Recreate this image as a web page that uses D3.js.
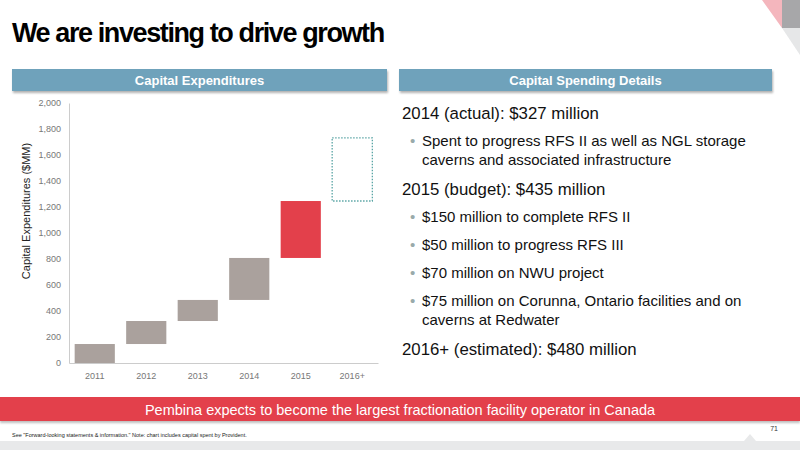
<!DOCTYPE html>
<html><head><meta charset="utf-8">
<script src="https://cdn.jsdelivr.net/npm/d3@7"></script>
<style>body{margin:0;background:#fff;font-family:"Liberation Sans",Arial,sans-serif}</style>
</head><body>
<svg id="s" width="800" height="450"></svg>
<script>
const years = ['2011', '2012', '2013', '2014', '2015', '2016+'];
const spend = [146, 177, 162, 323, 438, 485];
const kinds = ['actual', 'actual', 'actual', 'actual', 'budget', 'estimate'];
const yTicks = [0, 200, 400, 600, 800, 1000, 1200, 1400, 1600, 1800, 2000];

const svg = d3.select('#s');

// corner decoration
svg.append('polygon').attr('points', '762,0 782,0 782,28').attr('fill', '#f4b6bd');
svg.append('polygon').attr('points', '782,0 800,0 800,33 782,28').attr('fill', '#a7a7a9');
svg.append('polygon').attr('points', '782,28 800,28 800,55').attr('fill', '#e6e7e8');

svg.append('text').attr('x', 12).attr('y', 42).attr('font-size', 27).attr('font-weight', 'bold')
    .attr('letter-spacing', -1.4).attr('fill', '#000').text('We are investing to drive growth');

// header bars
[[12, 387, 'Capital Expenditures'], [399, 772, 'Capital Spending Details']].forEach(([x0, x1, t]) => {
    svg.append('rect').attr('x', x0).attr('y', 69).attr('width', x1 - x0).attr('height', 22)
        .attr('fill', '#6fa2bb').style('filter', 'drop-shadow(1px 2px 1px rgba(0,0,0,0.3))');
    svg.append('text').attr('x', (x0 + x1) / 2).attr('y', 85).attr('text-anchor', 'middle')
        .attr('font-size', 13).attr('font-weight', 'bold').attr('fill', '#fff').text(t);
});

// chart
const x = d3.scaleBand().domain(years).range([69, 378]).paddingInner(0.22).paddingOuter(0.11);
const y = d3.scaleLinear().domain([0, 2000]).range([363, 103]);
const g = svg.append('g');
const yAxis = g.append('g').attr('transform', 'translate(69,0)')
    .call(d3.axisLeft(y).tickValues(yTicks).tickFormat(d3.format(',')).tickSize(0).tickPadding(8));
const xAxis = g.append('g').attr('transform', 'translate(0,363)')
    .call(d3.axisBottom(x).tickSize(0).tickPadding(10));
[yAxis, xAxis].forEach(a => {
    a.selectAll('text').attr('font-size', 9).attr('fill', '#777').attr('font-family', 'Liberation Sans, Arial');
    a.select('.domain').attr('stroke', '#ccc');
});
g.append('text').attr('transform', 'translate(30,211) rotate(-90)').attr('text-anchor', 'middle')
    .attr('font-size', 11).attr('fill', '#222').text('Capital Expenditures ($MM)');

let base = 0;
years.forEach((yr, i) => {
    const lo = base, hi = base + spend[i];
    base = hi;
    const r = g.append('rect').attr('x', x(yr)).attr('width', x.bandwidth())
        .attr('y', y(hi)).attr('height', y(lo) - y(hi));
    if (kinds[i] === 'actual') r.attr('fill', '#aaa19d');
    else if (kinds[i] === 'budget') r.attr('fill', '#e3404b');
    else r.attr('fill', 'none').attr('stroke', '#5aa5a5').attr('stroke-width', 1.3).attr('stroke-dasharray', '1.5,1.5');
});

// details text
const lines = [
    ['h', 119, '2014 (actual): $327 million'],
    ['b', 146, 'Spent to progress RFS II as well as NGL storage'],
    ['c', 165, 'caverns and associated infrastructure'],
    ['h', 195, '2015 (budget): $435 million'],
    ['b', 222, '$150 million to complete RFS II'],
    ['b', 250, '$50 million to progress RFS III'],
    ['b', 278, '$70 million on NWU project'],
    ['b', 306, '$75 million on Corunna, Ontario facilities and on'],
    ['c', 325, 'caverns at Redwater'],
    ['h', 355, '2016+ (estimated): $480 million']
];
lines.forEach(([k, yy, t]) => {
    if (k === 'h') svg.append('text').attr('x', 402).attr('y', yy).attr('font-size', 16.8).attr('fill', '#111').text(t);
    else {
        if (k === 'b') svg.append('text').attr('x', 410).attr('y', yy).attr('font-size', 15).attr('fill', '#9aa').text('•');
        svg.append('text').attr('x', 422).attr('y', yy).attr('font-size', 15).attr('fill', '#111').text(t);
    }
});

// banner & footer
svg.append('rect').attr('x', 0).attr('y', 397).attr('width', 800).attr('height', 24).attr('fill', '#e3404b')
    .style('filter', 'drop-shadow(0 2px 1px rgba(0,0,0,0.25))');
svg.append('text').attr('x', 400).attr('y', 415).attr('text-anchor', 'middle').attr('font-size', 14.5)
    .attr('fill', '#fff').text('Pembina expects to become the largest fractionation facility operator in Canada');
svg.append('polygon').attr('points', '0,441 744,441 750,434 756,441 800,441 800,450 0,450').attr('fill', '#e8e9ea');
svg.append('text').attr('x', 12).attr('y', 437).attr('font-size', 5.5).attr('fill', '#222')
    .text('See "Forward-looking statements & information." Note: chart includes capital spent by Provident.');
svg.append('text').attr('x', 778).attr('y', 431).attr('text-anchor', 'end').attr('font-size', 7).attr('fill', '#333').text('71');
</script>
</body></html>
